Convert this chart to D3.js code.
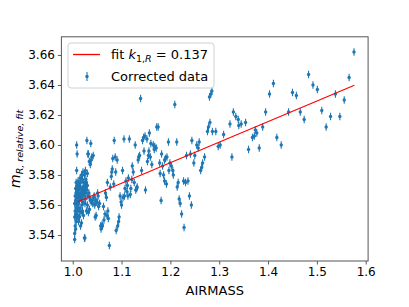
<!DOCTYPE html>
<html>
<head>
<meta charset="utf-8">
<script src="https://cdn.jsdelivr.net/npm/d3@7"></script>
<style>
  body { margin: 0; background: #fff; }
  text { font-family: "DejaVu Sans", sans-serif; fill: #000; }
</style>
</head>
<body>
<svg id="chart" width="409" height="307"></svg>
<script>
// airmass / fitted relative magnitude
var airmass = [
  1.576, 1.566, 1.556, 1.547, 1.538, 1.528, 1.519, 1.510, 1.501, 1.492,
  1.483, 1.474, 1.466, 1.458, 1.450, 1.442, 1.427, 1.418, 1.411, 1.403,
  1.395, 1.389, 1.382, 1.377, 1.374, 1.372, 1.368, 1.360, 1.354, 1.345,
  1.340, 1.339, 1.334, 1.329, 1.326, 1.322, 1.309, 1.302, 1.298, 1.293,
  1.286, 1.285, 1.283, 1.280, 1.281, 1.278, 1.276, 1.270, 1.266, 1.262,
  1.259, 1.257, 1.250, 1.248, 1.244, 1.241, 1.243, 1.239, 1.236, 1.233,
  1.231, 1.227, 1.228, 1.223, 1.220, 1.218, 1.214, 1.213, 1.209, 1.206,
  1.205, 1.202, 1.199, 1.196, 1.193, 1.190, 1.188, 1.186, 1.182, 1.181,
  1.179, 1.178, 1.175, 1.172, 1.188, 1.192, 1.171, 1.167, 1.165, 1.162,
  1.159, 1.157, 1.155, 1.152, 1.149, 1.148, 1.145, 1.143, 1.141, 1.139,
  1.137, 1.135, 1.132, 1.129, 1.128, 1.124, 1.122, 1.119, 1.116, 1.114,
  1.111, 1.109, 1.105, 1.102, 1.099, 1.097, 1.095, 1.094, 1.092, 1.089,
  1.087, 1.085, 1.082, 1.080, 1.079, 1.075, 1.073, 1.070, 1.071, 1.067,
  1.064, 1.061, 1.058, 1.055, 1.051, 1.049, 1.046, 1.043, 1.040, 1.039,
  1.037, 1.034, 1.032, 1.029, 1.025, 1.077, 1.106, 1.112, 1.118, 1.126,
  1.134, 1.153, 1.156, 1.168, 1.184, 1.197, 1.216, 1.254, 1.264,
  1.004, 1.004, 1.005, 1.004, 1.005, 1.004, 1.005,
  1.006, 1.007, 1.006, 1.007, 1.006, 1.007, 1.006, 1.007,
  1.008, 1.009, 1.008, 1.009, 1.008, 1.009, 1.008, 1.009, 1.008,
  1.010, 1.011, 1.010, 1.011, 1.010, 1.011,
  1.012, 1.013, 1.012, 1.013, 1.012, 1.013,
  1.014, 1.015, 1.014, 1.015, 1.014, 1.015,
  1.016, 1.017, 1.016, 1.017, 1.016,
  1.018, 1.019, 1.018, 1.019, 1.018,
  1.020, 1.021, 1.020, 1.021, 1.020, 1.021,
  1.022, 1.023, 1.022, 1.023,
  1.024, 1.025, 1.024, 1.025, 1.024,
  1.026, 1.027, 1.026, 1.027, 1.026,
  1.028, 1.029, 1.028, 1.030,
  1.030, 1.031, 1.030, 1.031,
  1.032, 1.033, 1.034,
  1.034, 1.035, 1.036,
  1.036, 1.038, 1.038, 1.041, 1.042, 1.044, 1.045, 1.047, 1.048, 1.050,
  1.052, 1.053, 1.057, 1.060, 1.063, 1.066, 1.069, 1.072, 1.081, 1.084,
  1.088, 1.091, 1.100, 1.103, 1.107, 1.113, 1.121, 1.131, 1.146, 1.160
];
var magRel = [
  3.662, 3.645, 3.630, 3.619, 3.634, 3.619, 3.612, 3.623, 3.637, 3.640,
  3.647, 3.617, 3.622, 3.633, 3.635, 3.622, 3.600, 3.605, 3.641, 3.634,
  3.622, 3.612, 3.598, 3.608, 3.610, 3.606, 3.605, 3.597, 3.615, 3.614,
  3.613, 3.617, 3.619, 3.622, 3.592, 3.614, 3.607, 3.600, 3.599, 3.609,
  3.609, 3.636, 3.634, 3.632, 3.615, 3.612, 3.609, 3.592, 3.588, 3.583,
  3.602, 3.598, 3.593, 3.588, 3.603, 3.594, 3.560, 3.566, 3.576, 3.593,
  3.575, 3.576, 3.545, 3.554, 3.561, 3.564, 3.572, 3.602, 3.627, 3.580,
  3.583, 3.586, 3.588, 3.602, 3.592, 3.591, 3.590, 3.580, 3.594, 3.563,
  3.581, 3.588, 3.612, 3.612, 3.576, 3.574, 3.598, 3.597, 3.600, 3.587,
  3.592, 3.608, 3.593, 3.604, 3.570, 3.606, 3.605, 3.603, 3.583, 3.631,
  3.593, 3.592, 3.572, 3.570, 3.600, 3.582, 3.586, 3.571, 3.604, 3.578,
  3.569, 3.576, 3.604, 3.583, 3.562, 3.566, 3.552, 3.549, 3.546, 3.543,
  3.592, 3.603, 3.591, 3.582, 3.579, 3.533, 3.551, 3.553, 3.575, 3.568,
  3.550, 3.546, 3.544, 3.561, 3.568, 3.562, 3.552, 3.565, 3.563, 3.592,
  3.601, 3.557, 3.594, 3.603, 3.538, 3.572, 3.566, 3.573, 3.567, 3.575,
  3.590, 3.589, 3.596, 3.599, 3.586, 3.583, 3.575, 3.600, 3.585,
  3.537, 3.541, 3.546, 3.552, 3.556, 3.561, 3.566,
  3.544, 3.549, 3.554, 3.558, 3.563, 3.568, 3.571, 3.575,
  3.551, 3.556, 3.560, 3.565, 3.569, 3.573, 3.583, 3.594, 3.600,
  3.553, 3.558, 3.562, 3.567, 3.571, 3.576,
  3.549, 3.556, 3.561, 3.565, 3.570, 3.574,
  3.552, 3.558, 3.563, 3.568, 3.572, 3.578,
  3.546, 3.555, 3.566, 3.571, 3.575,
  3.548, 3.560, 3.564, 3.569, 3.580,
  3.556, 3.562, 3.567, 3.572, 3.577, 3.582,
  3.553, 3.566, 3.570, 3.575,
  3.538, 3.561, 3.569, 3.573, 3.580,
  3.564, 3.568, 3.572, 3.577, 3.583,
  3.556, 3.570, 3.575, 3.581,
  3.560, 3.566, 3.573, 3.594,
  3.555, 3.568, 3.589,
  3.557, 3.565, 3.587,
  3.563, 3.590, 3.562, 3.561, 3.593, 3.566, 3.560, 3.563, 3.553, 3.562,
  3.566, 3.559, 3.546, 3.547, 3.559, 3.554, 3.565, 3.556, 3.584, 3.574,
  3.582, 3.590, 3.560, 3.565, 3.571, 3.566, 3.577, 3.571, 3.596, 3.601
];
var magErr = 0.0025;

// linear fit m = a + k * airmass
var fitK = 0.137;
var fitA = 3.4238;
var fitX = [1.010, 1.5768];

var xTicks = [1.0, 1.1, 1.2, 1.3, 1.4, 1.5, 1.6];
var yTicks = [3.54, 3.56, 3.58, 3.60, 3.62, 3.64, 3.66];

var svg = d3.select("#chart");
var margin = { top: 36.8, right: 40.9, bottom: 46, left: 61.4 },
  width = 409 - margin.left - margin.right,
  height = 307 - margin.top - margin.bottom;

var x = d3.scaleLinear().domain([0.9768, 1.6049]).range([0, width]);
var y = d3.scaleLinear().domain([3.5227, 3.6721]).range([height, 0]);

var g = svg.append("g")
  .attr("transform", "translate(" + margin.left + "," + margin.top + ")");

var points = airmass.map(function(a, i) { return { x: a, y: magRel[i] }; });
var blue = "#1f77b4";

// error bars
g.selectAll(".err")
  .data(points)
  .enter().append("line")
  .attr("class", "err")
  .attr("x1", function(d) { return x(d.x); })
  .attr("x2", function(d) { return x(d.x); })
  .attr("y1", function(d) { return y(d.y - magErr); })
  .attr("y2", function(d) { return y(d.y + magErr); })
  .attr("stroke", blue)
  .attr("stroke-width", 1.1);

g.selectAll(".dot")
  .data(points)
  .enter().append("circle")
  .attr("class", "dot")
  .attr("cx", function(d) { return x(d.x); })
  .attr("cy", function(d) { return y(d.y); })
  .attr("r", 1.7)
  .attr("fill", blue);

// fit line
var line = d3.line()
  .x(function(d) { return x(d); })
  .y(function(d) { return y(fitA + fitK * d); });
g.append("path")
  .datum(fitX)
  .attr("d", line)
  .attr("fill", "none")
  .attr("stroke", "#ff0000")
  .attr("stroke-width", 1.1);

// axes
var xAxis = g.append("g")
  .attr("transform", "translate(0," + height + ")")
  .call(d3.axisBottom(x).tickValues(xTicks).tickFormat(d3.format(".1f")).tickSize(3.5).tickPadding(3));
var yAxis = g.append("g")
  .call(d3.axisLeft(y).tickValues(yTicks).tickFormat(d3.format(".2f")).tickSize(3.5).tickPadding(3));
[xAxis, yAxis].forEach(function(ax) {
  ax.select(".domain").remove();
  ax.selectAll("line").attr("stroke", "#333").attr("stroke-width", 0.8);
  ax.selectAll("text").attr("font-size", 12).attr("font-family", "DejaVu Sans").attr("fill", "#000");
});

// frame
g.append("rect")
  .attr("width", width)
  .attr("height", height)
  .attr("fill", "none")
  .attr("stroke", "#555")
  .attr("stroke-width", 1);

// axis labels
svg.append("text")
  .attr("x", margin.left + width / 2)
  .attr("y", 295)
  .attr("text-anchor", "middle")
  .attr("font-size", 13)
  .text("AIRMASS");

var yl = svg.append("text")
  .attr("transform", "translate(20," + (margin.top + height / 2) + ") rotate(-90)")
  .attr("text-anchor", "middle")
  .attr("font-size", 13);
yl.append("tspan").attr("font-style", "italic").attr("font-size", 14).text("m");
yl.append("tspan").attr("font-style", "italic").attr("font-size", 9.5).attr("dy", 3).text("R, relative, fit");

// legend
var lg = svg.append("g").attr("transform", "translate(68,43)");
lg.append("rect")
  .attr("width", 146).attr("height", 45).attr("rx", 3)
  .attr("fill", "#fff").attr("fill-opacity", 0.8)
  .attr("stroke", "#d0d0d0").attr("stroke-width", 1);
lg.append("line")
  .attr("x1", 5).attr("x2", 32).attr("y1", 11.5).attr("y2", 11.5)
  .attr("stroke", "#ff0000").attr("stroke-width", 1.3);
var t1 = lg.append("text").attr("x", 43).attr("y", 16).attr("font-size", 13);
t1.append("tspan").text("fit ");
t1.append("tspan").attr("font-style", "italic").text("k");
t1.append("tspan").attr("font-size", 9.5).attr("dy", 3).text("1,");
t1.append("tspan").attr("font-size", 9.5).attr("font-style", "italic").text("R");
t1.append("tspan").attr("dy", -3).text(" = 0.137");
lg.append("line")
  .attr("x1", 19).attr("x2", 19).attr("y1", 29).attr("y2", 38)
  .attr("stroke", blue).attr("stroke-width", 1.1);
lg.append("circle").attr("cx", 19).attr("cy", 33.5).attr("r", 1.7).attr("fill", blue);
lg.append("text").attr("x", 43).attr("y", 38).attr("font-size", 13).text("Corrected data");
</script>
</body>
</html>
